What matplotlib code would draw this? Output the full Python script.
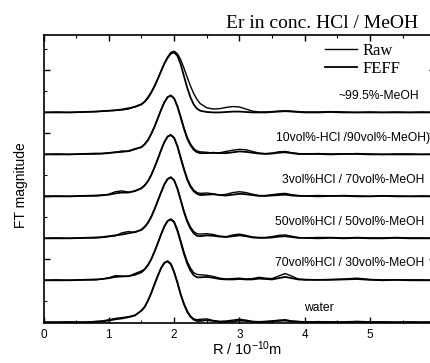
# FT magnitude of Er in conc. HCl / MeOH, Raw vs FEFF, stacked curves.

import matplotlib.pyplot as plt
from matplotlib.ticker import MultipleLocator

R = [0.0, 0.2, 0.4, 0.6, 0.8, 0.9, 1.0, 1.1, 1.2, 1.3, 1.4, 1.5,
     1.55, 1.6, 1.65, 1.7, 1.75, 1.8, 1.85, 1.9, 1.95, 2.0, 2.05, 2.1,
     2.15, 2.2, 2.25, 2.3, 2.35, 2.4, 2.5, 2.6, 2.7, 2.8, 2.9, 3.0,
     3.1, 3.2, 3.3, 3.4, 3.5, 3.6, 3.7, 3.8, 3.9, 4.0, 4.2, 4.4,
     4.6, 4.8, 5.0, 5.2, 5.4, 5.6, 5.8, 6.0]

sample_names = ['~99.5%-MeOH', '10vol%-HCl /90vol%-MeOH)', '3vol%HCl / 70vol%-MeOH',
                '50vol%HCl / 50vol%-MeOH', '70vol%HCl / 30vol%-MeOH', 'water']

raw_meoh = [.00, .01, .00, .01, .02, .03, .04, .05, .06, .08, .14, .20,
            .25, .34, .47, .62, .80, .99, 1.17, 1.32, 1.43, 1.46, 1.40, 1.26,
            1.06, .84, .63, .45, .31, .21, .11, .08, .09, .12, .14, .13,
            .08, .03, .01, .01, .02, .03, .04, .03, .02, .01, .01, .02,
            .01, .00, .01, .00, .01, .00, .01, .00]
feff_meoh = [.00, .00, .00, .01, .02, .03, .04, .05, .07, .10, .13, .19,
             .26, .36, .48, .63, .80, .98, 1.16, 1.30, 1.40, 1.43, 1.35, 1.15,
             .87, .59, .36, .19, .09, .04, .01, .00, .00, .01, .02, .02,
             .01, .00, .00, .00, .01, .02, .03, .02, .01, .00, .00, .01,
             .00, .00, .00, .00, .00, .00, .00, .00]

raw_10 = [.00, .01, .00, .01, .01, .02, .04, .05, .08, .07, .12, .18,
          .25, .35, .49, .66, .86, 1.06, 1.24, 1.37, 1.41, 1.34, 1.16, .91,
          .64, .41, .25, .14, .08, .06, .05, .03, .04, .07, .10, .12,
          .11, .07, .03, .02, .03, .06, .07, .04, .02, .01, .02, .01,
          .01, .02, .01, .00, .01, .01, .00, .01]
feff_10 = [.00, .00, .00, .01, .02, .02, .03, .05, .06, .08, .13, .17,
           .24, .34, .49, .66, .86, 1.06, 1.24, 1.36, 1.40, 1.33, 1.14, .88,
           .61, .38, .22, .11, .05, .03, .03, .04, .03, .03, .05, .07,
           .06, .04, .02, .01, .02, .04, .05, .03, .01, .01, .01, .00,
           .01, .01, .00, .00, .00, .00, .00, .00]

raw_3 = [.00, .01, .00, .01, .01, .02, .05, .11, .13, .10, .12, .20,
         .27, .37, .51, .69, .89, 1.10, 1.29, 1.43, 1.47, 1.40, 1.21, .94,
         .67, .43, .26, .15, .09, .07, .08, .06, .03, .05, .09, .11,
         .09, .05, .02, .02, .04, .06, .07, .04, .02, .01, .02, .01,
         .02, .01, .00, .01, .01, .00, .01, .00]
feff_3 = [.00, .00, .00, .01, .02, .03, .04, .07, .09, .09, .13, .19,
          .26, .36, .51, .69, .89, 1.10, 1.29, 1.42, 1.46, 1.39, 1.19, .91,
          .64, .40, .23, .12, .06, .03, .04, .05, .03, .02, .04, .06,
          .05, .03, .01, .01, .02, .03, .04, .02, .01, .01, .00, .01,
          .01, .00, .00, .01, .00, .00, .00, .00]

raw_50 = [.00, .01, .00, .01, .01, .02, .04, .06, .13, .16, .14, .21,
          .28, .38, .52, .70, .90, 1.10, 1.29, 1.42, 1.46, 1.39, 1.20, .93,
          .66, .43, .27, .16, .11, .10, .11, .09, .05, .04, .08, .10,
          .07, .03, .02, .02, .04, .07, .08, .05, .02, .01, .02, .02,
          .01, .02, .01, .01, .02, .01, .01, .00]
feff_50 = [.00, .00, .00, .01, .02, .03, .05, .07, .09, .12, .15, .20,
           .27, .37, .51, .69, .89, 1.09, 1.28, 1.41, 1.45, 1.38, 1.18, .91,
           .63, .40, .23, .12, .06, .05, .07, .06, .04, .03, .05, .07,
           .05, .02, .01, .01, .02, .04, .05, .03, .01, .01, .00, .01,
           .00, .01, .00, .00, .01, .00, .00, .00]

raw_70 = [.00, .01, .00, .01, .01, .03, .06, .11, .10, .09, .16, .22,
          .27, .37, .51, .69, .89, 1.10, 1.29, 1.42, 1.46, 1.40, 1.21, .95,
          .68, .45, .29, .18, .14, .13, .12, .09, .05, .03, .04, .05,
          .03, .04, .07, .05, .04, .10, .16, .10, .03, .02, .01, .02,
          .03, .05, .02, .01, .01, .01, .01, .00]
feff_70 = [.00, .00, .00, .01, .02, .03, .05, .08, .09, .10, .13, .19,
           .26, .36, .50, .68, .88, 1.09, 1.28, 1.41, 1.45, 1.38, 1.18, .91,
           .63, .40, .23, .12, .07, .07, .08, .06, .03, .02, .02, .03,
           .02, .02, .04, .03, .02, .05, .08, .05, .02, .01, .01, .01,
           .02, .03, .01, .00, .01, .00, .00, .00]

raw_water = [.00, .00, .01, .00, .02, .03, .06, .09, .11, .13, .17, .27,
             .36, .51, .69, .90, 1.10, 1.29, 1.42, 1.46, 1.40, 1.21, .96, .68,
             .45, .27, .15, .08, .06, .07, .08, .04, .02, .03, .05, .07,
             .05, .02, .01, .02, .03, .05, .06, .03, .02, .01, .01, .01,
             .01, .02, .01, .01, .00, .01, .00, .01]
feff_water = [.00, .00, .00, .00, .01, .02, .04, .07, .09, .12, .16, .28,
              .37, .52, .70, .91, 1.11, 1.29, 1.41, 1.45, 1.38, 1.19, .94, .66,
              .43, .25, .13, .06, .03, .03, .05, .03, .01, .01, .02, .04,
              .03, .01, .01, .01, .02, .03, .04, .02, .01, .00, .01, .00,
              .00, .01, .00, .00, .00, .00, .00, .00]

raw_curves = [raw_meoh, raw_10, raw_3, raw_50, raw_70, raw_water]
feff_curves = [feff_meoh, feff_10, feff_3, feff_50, feff_70, feff_water]
offsets = [5, 4, 3, 2, 1, 0]

plt.rcParams['font.family'] = ['Liberation Sans', 'DejaVu Sans']
plt.rcParams['mathtext.default'] = 'regular'

fig = plt.figure(figsize=(4.31, 3.63), dpi=100)
ax = fig.add_axes([0.101, 0.110, 0.909, 0.793])

for raw, feff, off in zip(raw_curves, feff_curves, offsets):
    assert len(raw) == len(R) and len(feff) == len(R)
    l_raw, = ax.plot(R, [v + off for v in raw], color='black', lw=1.0)
    l_feff, = ax.plot(R, [v + off for v in feff], color='black', lw=1.3)

# curve names, right aligned above each baseline
label_pos = [(5.75, 5.40), (5.92, 4.40), (5.83, 3.40), (5.83, 2.40), (5.83, 1.40)]
for name, (x, y) in zip(sample_names[:5], label_pos):
    ax.text(x, y, name, ha='right', va='center', fontsize=8.7)
ax.text(4.22, 0.33, sample_names[5], ha='center', va='center', fontsize=8.7)

ax.set_xlim(0, 6)
ax.set_ylim(-0.02, 6.84)
ax.xaxis.set_major_locator(MultipleLocator(1))
ax.xaxis.set_minor_locator(MultipleLocator(0.5))
ax.yaxis.set_major_locator(MultipleLocator(1.5))
ax.yaxis.set_minor_locator(MultipleLocator(0.5))
ax.tick_params(which='both', direction='in', top=True, right=True,
               labelleft=False, labelsize=8.5, pad=4)
ax.tick_params(which='major', length=4, width=1)
ax.tick_params(which='minor', length=2, width=0.8)
for s in ax.spines.values():
    s.set_linewidth(1.2)

ax.set_xlabel('R / 10$^{-10}$m', fontsize=10.5)
ax.xaxis.set_label_coords(0.519, -0.058)
ax.set_ylabel('FT magnitude', fontsize=10)
ax.yaxis.set_label_coords(-0.04, 0.479)

fig.text(418 / 431, 1 - 23 / 363, 'Er in conc. HCl / MeOH', ha='right', va='center',
         family='Liberation Serif', fontsize=14)

fig.legend([l_raw, l_feff], ['Raw', 'FEFF'], loc='upper left',
           bbox_to_anchor=(325 / 431, 1 - 43 / 363), frameon=False,
           borderpad=0, borderaxespad=0, handlelength=1.9, handletextpad=0.35,
           labelspacing=0.1, prop={'family': 'Liberation Serif', 'size': 12})

fig.savefig('out.png', dpi=100)
